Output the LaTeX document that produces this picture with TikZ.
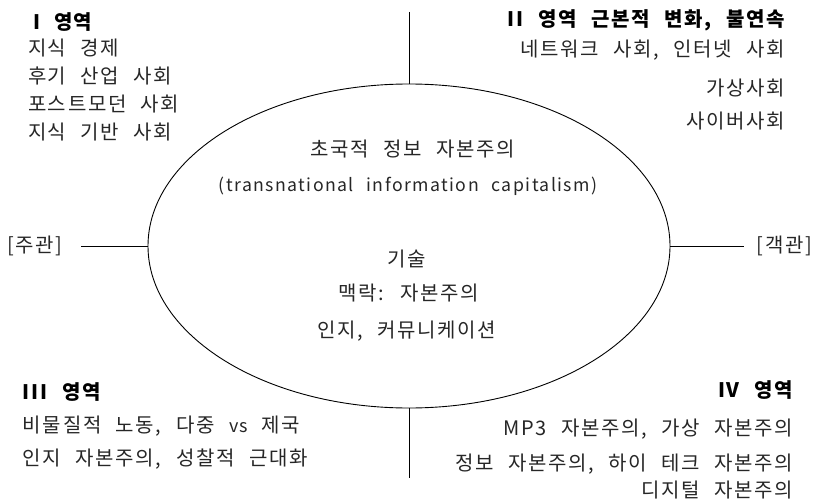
\documentclass[tikz,border=0pt]{standalone}
\usepackage{fontspec}
\setmainfont{Noto Sans CJK KR}[LetterSpace=8, WordSpace=2.4]
\usetikzlibrary{shapes.geometric}
\begin{document}
\begin{tikzpicture}[x=1pt,y=-1pt,
  txt/.style={font=\fontsize{20}{22}\selectfont, text=black!85, inner sep=0pt, outer sep=0pt},
  lat/.style={font=\fontsize{17.7}{20}\selectfont, text=black!85, inner sep=0pt, outer sep=0pt},
  hd/.style={font=\fontsize{20}{22}\selectfont\bfseries, text=black, inner sep=0pt, outer sep=0pt},
  ln/.style={draw=black, line width=0.9pt}]
\useasboundingbox (0,0) rectangle (816,500);
\node[ln, ellipse, minimum width=522, minimum height=324, inner sep=0pt, outer sep=0pt] (E) at (409,246) {};
% quadrant I
\node[hd, anchor=west] (h1) at (33,22) {I\hspace{14pt}영역};
\node[txt, anchor=west] (a1) at (28,48) {지식 경제};
\node[txt, anchor=west] (a2) at (28,76) {후기 산업 사회};
\node[txt, anchor=west] (a3) at (28,104) {포스트모던 사회};
\node[txt, anchor=west] (a4) at (28,132) {지식 기반 사회};
% quadrant II
\node[hd, anchor=east] (h2) at (785,20) {II 영역 근본적 변화, 불연속};
\node[txt, anchor=east] (b1) at (785,50) {네트워크 사회, 인터넷 사회};
\node[txt, anchor=east] (b2) at (785,88) {가상사회};
\node[txt, anchor=east] (b3) at (785,121) {사이버사회};
% quadrant III
\node[hd, anchor=west] (h3) at (23,392) {III 영역};
\node[txt, anchor=west] (c1) at (23,426) {비물질적 노동, 다중 \fontsize{18}{20}\selectfont vs \fontsize{20}{22}\selectfont 제국};
\node[txt, anchor=west] (c2) at (23,459) {인지 자본주의, 성찰적 근대화};
% quadrant IV
\node[hd, anchor=east] (h4) at (793,390) {IV 영역};
\node[txt, anchor=east] (d1) at (793,429) {MP3 자본주의, 가상 자본주의};
\node[txt, anchor=east] (d2) at (793,464) {정보 자본주의, 하이 테크 자본주의};
\node[txt, anchor=east] (d3) at (793,490) {디지털 자본주의};
% centre
\node[txt] (m1) at (413,149) {초국적 정보 자본주의};
\node[lat] (m2) at (408,186) {(transnational information capitalism)};
\node[txt] (m3) at (407,259) {기술};
\node[txt] (m4) at (409,293) {맥락: 자본주의};
\node[txt] (m5) at (407,331) {인지, 커뮤니케이션};
% axis labels
\node[txt, anchor=west] (sub) at (7,246) {[주관]};
\node[txt, anchor=east] (obj) at (812,246) {[객관]};
\coordinate (top) at (409,12);
\coordinate (bot) at (409,478);
\coordinate (lft) at (81,246);
\coordinate (rgt) at (744,246);
\draw[ln] (top) -- (E.north);
\draw[ln] (E.south) -- (bot);
\draw[ln] (lft) -- (E.west);
\draw[ln] (E.east) -- (rgt);
\end{tikzpicture}
\end{document}
